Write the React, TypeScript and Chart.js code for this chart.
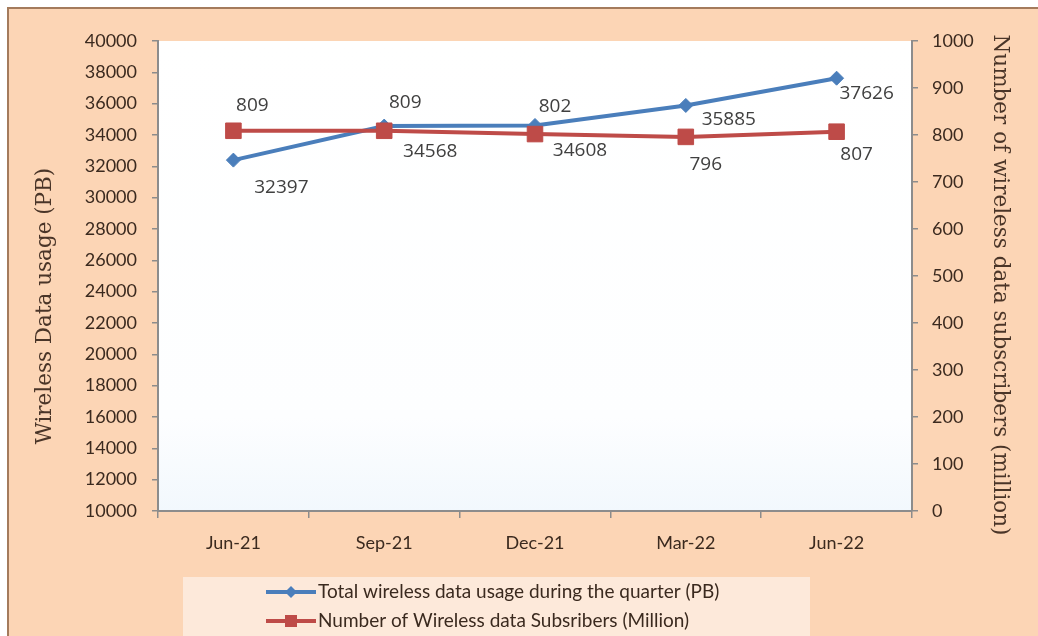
import React, { useEffect, useRef } from "react";
import { Chart, registerables } from "chart.js";

Chart.register(...registerables);

const categories = ["Jun-21", "Sep-21", "Dec-21", "Mar-22", "Jun-22"];
const usagePB = [32397, 34568, 34608, 35885, 37626];
const subscribersMillion = [809, 809, 802, 796, 807];

const usageLabel = "Total wireless data usage during the quarter (PB)";
const subsLabel = "Number of Wireless data Subsribers (Million)";
const leftTitle = "Wireless Data usage (PB)";
const rightTitle = "Number of wireless data subscribers (million)";

const usageLabelOffsets = [[48, 27], [46, 25], [45, 25], [43, 14], [30, 15]];
const subsLabelOffsets = [[19, -25], [21, -28], [20, -27], [20, 28], [20, 23]];

const BLUE = "#4a7ebb";
const RED = "#be4b48";
const TEXT = "#3b2a1f";
const AXIS = "#8c8c8c";

const plotBgPlugin = {
  id: "plotBg",
  beforeDraw(chart: any) {
    const { ctx, chartArea: a } = chart;
    const g = ctx.createLinearGradient(0, a.top, 0, a.bottom);
    g.addColorStop(0, "#ffffff");
    g.addColorStop(0.8, "#fdfeff");
    g.addColorStop(1, "#f2f8fd");
    ctx.save();
    ctx.fillStyle = g;
    ctx.fillRect(a.left, a.top, a.right - a.left, a.bottom - a.top);
    ctx.restore();
  },
};

const dataLabelPlugin = {
  id: "dataLabels",
  afterDatasetsDraw(chart: any) {
    const { ctx } = chart;
    ctx.save();
    ctx.font = "19px 'Open Sans'";
    ctx.fillStyle = "#404040";
    ctx.textAlign = "center";
    ctx.textBaseline = "middle";
    const offs = [usageLabelOffsets, subsLabelOffsets];
    chart.data.datasets.forEach((ds: any, di: number) => {
      const meta = chart.getDatasetMeta(di);
      meta.data.forEach((pt: any, i: number) => {
        const [dx, dy] = offs[di][i];
        ctx.fillText(String(ds.data[i]), pt.x + dx, pt.y + dy);
      });
    });
    ctx.restore();
  },
};

const decorPlugin = {
  id: "decor",
  afterDraw(chart: any) {
    const { ctx } = chart;
    ctx.save();
    ctx.fillStyle = "#4a3528";
    ctx.font = "21.5px 'DejaVu Serif'";
    ctx.textAlign = "center";
    ctx.textBaseline = "middle";
    ctx.save();
    ctx.translate(45, 306);
    ctx.rotate(-Math.PI / 2);
    ctx.fillText(leftTitle, 0, 0);
    ctx.restore();
    ctx.save();
    ctx.translate(1000, 285);
    ctx.rotate(Math.PI / 2);
    ctx.fillText(rightTitle, 0, 0);
    ctx.restore();

    ctx.fillStyle = "#fde9da";
    ctx.fillRect(183, 577, 627, 60);
    const items = [
      { label: usageLabel, color: BLUE, style: "diamond", y: 592 },
      { label: subsLabel, color: RED, style: "square", y: 621 },
    ];
    items.forEach((it) => {
      ctx.strokeStyle = it.color;
      ctx.lineWidth = 4;
      ctx.beginPath();
      ctx.moveTo(266, it.y);
      ctx.lineTo(316, it.y);
      ctx.stroke();
      ctx.fillStyle = it.color;
      ctx.beginPath();
      if (it.style === "diamond") {
        ctx.moveTo(291, it.y - 6);
        ctx.lineTo(297, it.y);
        ctx.lineTo(291, it.y + 6);
        ctx.lineTo(285, it.y);
        ctx.closePath();
      } else {
        ctx.rect(285, it.y - 6, 12, 12);
      }
      ctx.fill();
      ctx.fillStyle = TEXT;
      ctx.font = "19px Lato";
      ctx.textAlign = "left";
      ctx.textBaseline = "middle";
      ctx.fillText(it.label, 318, it.y);
    });
    ctx.restore();
  },
};

const plain = (v: any) => String(v);

export default function App() {
  const ref = useRef<HTMLCanvasElement | null>(null);
  useEffect(() => {
    if (!ref.current) return;
    const chart = new Chart(ref.current, {
      type: "line",
      data: {
        labels: categories,
        datasets: [
          {
            label: usageLabel,
            data: usagePB,
            yAxisID: "y",
            borderColor: BLUE,
            backgroundColor: BLUE,
            borderWidth: 4,
            pointStyle: "rectRot",
            pointRadius: 7,
            pointBorderWidth: 1,
            tension: 0,
            order: 1,
          },
          {
            label: subsLabel,
            data: subscribersMillion,
            yAxisID: "y2",
            borderColor: RED,
            backgroundColor: RED,
            borderWidth: 4,
            pointStyle: "rect",
            pointRadius: 11,
            pointBorderWidth: 1,
            tension: 0,
            order: 0,
          },
        ],
      },
      options: {
        responsive: false,
        animation: false,
        layout: { padding: { top: 41, left: 0, right: 0, bottom: 0 } },
        plugins: { legend: { display: false }, tooltip: { enabled: false }, title: { display: false } },
        scales: {
          x: {
            type: "category",
            offset: true,
            grid: { offset: true, drawOnChartArea: false, drawTicks: true, tickLength: 7, color: AXIS, lineWidth: 1.5 },
            border: { display: true, color: AXIS, width: 2 },
            ticks: { color: TEXT, font: { family: "Lato", size: 18 }, padding: 14, maxRotation: 0 },
            afterFit(scale: any) { scale.height = 125; },
          },
          y: {
            position: "left",
            min: 10000,
            max: 40000,
            ticks: { stepSize: 2000, color: TEXT, font: { family: "Lato", size: 18 }, padding: 15, callback: plain },
            grid: { drawOnChartArea: false, drawTicks: true, tickLength: 6, color: AXIS, lineWidth: 1.5 },
            border: { display: true, color: AXIS, width: 2 },
            afterFit(scale: any) { scale.width = 158; },
          },
          y2: {
            position: "right",
            min: 0,
            max: 1000,
            ticks: { stepSize: 100, color: TEXT, font: { family: "Lato", size: 18 }, padding: 14, callback: plain },
            grid: { drawOnChartArea: false, drawTicks: true, tickLength: 6, color: AXIS, lineWidth: 1.5 },
            border: { display: true, color: AXIS, width: 2 },
            afterFit(scale: any) { scale.width = 126; },
          },
        },
      },
      plugins: [plotBgPlugin, dataLabelPlugin, decorPlugin],
    });
    return () => chart.destroy();
  }, []);

  return (
    <div style={{ position: "fixed", left: 0, top: 0, width: 1038, height: 636, background: "#ffffff", overflow: "hidden" }}>
      <div
        style={{
          position: "absolute",
          left: 7,
          top: 7,
          right: 0,
          bottom: 0,
          background: "#fcd5b5",
          borderLeft: "2px solid #a47b5c",
          borderTop: "2px solid #a47b5c",
        }}
      />
      <canvas ref={ref} width={1038} height={636} style={{ position: "absolute", left: 0, top: 0 }} />
    </div>
  );
}
